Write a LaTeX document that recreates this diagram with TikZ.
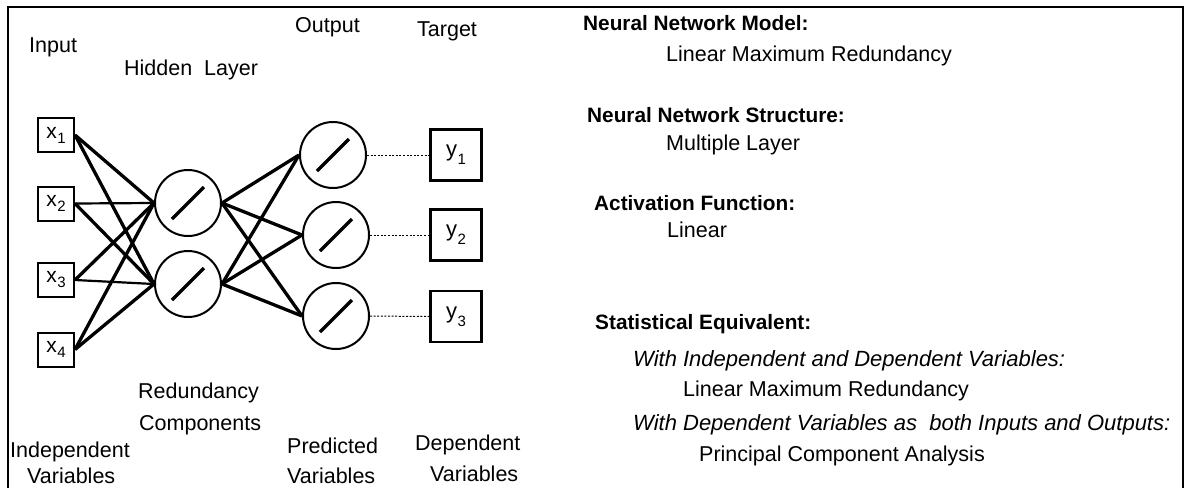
\documentclass[tikz,border=0pt]{standalone}
\usepackage{fontspec}
\setmainfont{Liberation Sans}
% subscripted variable label inside a box
\newcommand\boxvar[3]{#1\kern0.5pt\raisebox{-#3}{\fontsize{15}{15}\selectfont #2}}
\tikzset{
  txt/.style={anchor=base west, inner sep=0pt, font=\fontsize{21.5}{26}\selectfont},
  hdr/.style={anchor=base west, inner sep=0pt, font=\fontsize{20.8}{25}\selectfont\bfseries},
  itl/.style={anchor=base west, inner sep=0pt, font=\fontsize{22}{26}\selectfont\itshape},
  inbox/.style={draw, line width=2pt, minimum width=36pt, minimum height=34pt,
    inner sep=0pt, font=\fontsize{21}{21}\selectfont},
  tgtbox/.style={draw, line width=2.2pt, minimum width=51pt, minimum height=51pt,
    inner sep=0pt, font=\fontsize{22}{22}\selectfont},
  unit/.style={circle, draw, line width=2pt, minimum size=66pt, inner sep=0pt,
    path picture={\draw[line width=3.2pt]
      ([shift={(-16pt,-16pt)}]path picture bounding box.center) --
      ([shift={(16pt,16pt)}]path picture bounding box.center);}},
  wire/.style={line width=3.3pt},
  flatwire/.style={line width=2.2pt},
  dots/.style={line width=1pt, dash pattern=on 2pt off 1.6pt},
  frame/.style={line width=2.2pt}
}
\begin{document}
\begin{tikzpicture}[x=1pt, y=-1pt]
\useasboundingbox (0,0) rectangle (1191,488);
% outer frame (open at the bottom)
\draw[frame] (8,488) -- (8,7) -- (1183,7) -- (1183,488);

% input layer
\node[inbox] (x1) at (56,135)   {\boxvar{x}{1}{5pt}};
\node[inbox] (x2) at (56,203.5) {\boxvar{x}{2}{5pt}};
\node[inbox] (x3) at (56,280)   {\boxvar{x}{3}{5pt}};
\node[inbox] (x4) at (56,349.5) {\boxvar{x}{4}{5pt}};

% hidden layer
\node[unit] (h1) at (188,203) {};
\node[unit] (h2) at (188,284) {};

% output layer
\node[unit] (o1) at (333,155) {};
\node[unit] (o2) at (336,235) {};
\node[unit] (o3) at (336,316) {};

% targets
\node[tgtbox] (y1) at (456,155)   {\boxvar{y}{1}{8pt}};
\node[tgtbox] (y2) at (456,235)   {\boxvar{y}{2}{8pt}};
\node[tgtbox] (y3) at (456,316.5) {\boxvar{y}{3}{8pt}};

% input -> hidden
\draw[wire] (x1.east) -- (h1.west);
\draw[wire] (x1.east) -- (h2.west);
\draw[flatwire] (x2.east) -- (h1.west);
\draw[wire] (x2.east) -- (h2.west);
\draw[wire] (x3.east) -- (h1.west);
\draw[flatwire] (x3.east) -- (h2.west);
\draw[wire] (x4.east) -- (h1.west);
\draw[wire] (x4.east) -- (h2.west);

% hidden -> output
\foreach \h in {h1,h2}
  \foreach \o in {o1,o2,o3}
    \draw[wire] (\h.east) -- (\o.west);

% output -> target
\draw[dots] (o1.east) -- (y1.west);
\draw[dots] (o2.east) -- (y2.west);
\draw[dots] (o3.east) -- (y3.west);

% layer captions
\node[txt] (capin)  at (29,52)  {Input};
\node[txt] (caphid) at (124,75) {Hidden\ \ Layer};
\node[txt] (capout) at (295,32) {Output};
\node[txt] (captgt) at (417,36) {Target};
\node[txt] (red1) at (138,398) {Redundancy};
\node[txt] (red2) at (139,430) {Components};
\node[txt] (ind1) at (10,457)  {Independent};
\node[txt] (ind2) at (27,483)  {Variables};
\node[txt] (pre1) at (287,453) {Predicted};
\node[txt] (pre2) at (287,483) {Variables};
\node[txt] (dep1) at (415,450) {Dependent};
\node[txt] (dep2) at (430,481) {Variables};

% model description
\node[hdr] (mh) at (583,30)  {Neural Network Model:};
\node[txt] (mt) at (666,61)  {Linear Maximum Redundancy};
\node[hdr] (sh) at (587,122) {Neural Network Structure:};
\node[txt] (st) at (666,150) {Multiple Layer};
\node[hdr] (ah) at (594,210) {Activation Function:};
\node[txt] (at) at (667,237) {Linear};
\node[hdr] (eh) at (595,329) {Statistical Equivalent:};
\node[itl] (e1) at (633,366) {With Independent and Dependent Variables:};
\node[txt] (e2) at (683,396) {Linear Maximum Redundancy};
\node[itl] (e3) at (633,430) {With Dependent Variables as\ \ both Inputs and Outputs:};
\node[txt] (e4) at (699,461) {Principal Component Analysis};
\end{tikzpicture}
\end{document}
